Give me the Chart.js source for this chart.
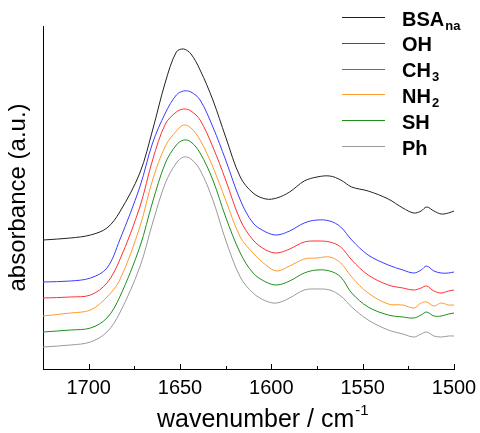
<!DOCTYPE html>
<html>
<head>
<meta charset="utf-8">
<script src="https://cdn.jsdelivr.net/npm/chart.js@4/dist/chart.umd.min.js"></script>
<style>
  body { margin: 0; background: #fff; }
  #wrap { width: 480px; height: 433px; }
</style>
</head>
<body>
<div id="wrap"><canvas id="c" width="480" height="433"></canvas></div>
<script>
// wavenumbers (cm-1) sampled along the spectra
const wavenumbers = [1725, 1710, 1699, 1690, 1683, 1672, 1665, 1658, 1652, 1648, 1644, 1639, 1632, 1625,
  1617, 1610, 1603, 1597, 1590, 1582, 1575, 1568, 1562, 1556, 1547, 1536, 1528, 1522, 1518, 1515,
  1511, 1507, 1503, 1500];

// offset absorbance, arbitrary units
const bsaNa = [122, 124, 127, 134, 150, 189, 232, 280, 310, 313, 308, 292, 262, 225, 185, 169, 163, 164,
  170, 181, 185, 186, 182, 175, 171, 163, 154, 149, 151, 155, 151, 148, 149, 151];
const ohVals = [80, 81, 84, 94, 122, 175, 219, 249, 267, 271, 270, 262, 235, 202, 162, 139, 130, 127,
  131, 139, 142, 141, 135, 122, 107, 97, 92, 89, 92, 96, 91, 89, 89, 90];
const ch3Vals = [64, 65, 67, 79, 102, 155, 202, 238, 250, 253, 251, 242, 215, 182, 142, 122, 112, 109,
  113, 120, 121, 120, 115, 102, 87, 77, 74, 72, 74, 76, 71, 69, 71, 72];
const nh2Vals = [46, 49, 52, 65, 82, 135, 182, 216, 231, 237, 234, 222, 195, 162, 125, 109, 97, 91,
  96, 103, 104, 105, 99, 85, 69, 58, 57, 54, 59, 60, 56, 59, 57, 57];
const shVals = [30, 32, 34, 44, 65, 115, 160, 199, 217, 222, 220, 209, 182, 145, 109, 89, 80, 77,
  81, 89, 92, 91, 85, 69, 55, 47, 45, 44, 47, 50, 46, 46, 48, 49];
const phVals = [15, 17, 20, 30, 49, 95, 139, 179, 199, 205, 203, 192, 162, 122, 85, 69, 61, 59,
  64, 72, 73, 72, 66, 55, 42, 32, 28, 25, 28, 30, 26, 25, 26, 26];

const seriesNames = ['BSA', 'OH', 'CH', 'NH', 'SH', 'Ph'];
const seriesSubs = ['na', '', '3', '2', '', ''];
const seriesColors = ['#222222', '#3b3bff', '#ff3030', '#ff9a2e', '#1e8f1e', '#9a9a9a'];
const xTicks = [1500, 1525, 1550, 1575, 1600, 1625, 1650, 1675, 1700, 1725];

const allSeries = [bsaNa, ohVals, ch3Vals, nh2Vals, shVals, phVals];
const FONT = '"Liberation Sans", Arial, sans-serif';

const datasets = allSeries.map((vals, i) => ({
  label: seriesNames[i] + seriesSubs[i],
  data: wavenumbers.map((w, j) => ({ x: w, y: vals[j] })),
  borderColor: seriesColors[i],
  borderWidth: 1,
  pointRadius: 0,
  fill: false,
  tension: 0.35
}));

const extras = {
  id: 'extras',
  afterDraw(chart) {
    const ctx = chart.ctx;
    const xs = chart.scales.x;
    const bottom = chart.chartArea.bottom;
    ctx.save();
    ctx.strokeStyle = '#000';
    ctx.lineWidth = 1;
    // inward tick marks
    xTicks.forEach(v => {
      const px = Math.round(xs.getPixelForValue(v)) + 0.5;
      const len = v % 50 === 0 ? 5 : 3;
      ctx.beginPath();
      ctx.moveTo(px, bottom);
      ctx.lineTo(px, bottom - len);
      ctx.stroke();
    });
    // x axis title with superscript
    ctx.fillStyle = '#000';
    ctx.textBaseline = 'alphabetic';
    ctx.font = '25px ' + FONT;
    const main = 'wavenumber / cm';
    ctx.fillText(main, 157, 427);
    const mw = ctx.measureText(main).width;
    ctx.font = '15px ' + FONT;
    ctx.fillText('-1', 157 + mw + 1, 415);
    // legend
    const lx0 = 342, lx1 = 385, tx = 402;
    seriesNames.forEach((name, i) => {
      const y = 17 + i * 25.8;
      ctx.strokeStyle = seriesColors[i];
      ctx.beginPath();
      ctx.moveTo(lx0, Math.round(y) + 0.5);
      ctx.lineTo(lx1, Math.round(y) + 0.5);
      ctx.stroke();
      ctx.fillStyle = '#000';
      ctx.textBaseline = 'middle';
      ctx.font = 'bold 20px ' + FONT;
      ctx.fillText(name, tx, y + 3);
      if (seriesSubs[i]) {
        const w = ctx.measureText(name).width;
        ctx.font = 'bold 13px ' + FONT;
        ctx.fillText(seriesSubs[i], tx + w + 1, y + 9);
      }
    });
    ctx.restore();
  }
};

new Chart(document.getElementById('c'), {
  type: 'line',
  data: { datasets },
  options: {
    responsive: false,
    animation: false,
    layout: { padding: { top: 26, right: 26, left: 0, bottom: 0 } },
    plugins: { legend: { display: false }, tooltip: { enabled: false } },
    scales: {
      x: {
        type: 'linear',
        reverse: true,
        min: 1500,
        max: 1725,
        afterFit(s) { s.height = 64; },
        afterBuildTicks(s) { s.ticks = xTicks.map(v => ({ value: v })); },
        ticks: {
          color: '#000',
          padding: 7,
          maxRotation: 0,
          font: { family: FONT, size: 20 },
          callback: v => (v % 50 === 0 && v < 1725) ? String(v) : ''
        },
        grid: { display: false, drawTicks: false },
        border: { display: true, color: '#000', width: 1 },
        title: { display: false }
      },
      y: {
        min: -7,
        max: 336,
        afterFit(s) { s.width = 43; },
        ticks: { display: false },
        grid: { display: false, drawTicks: false },
        border: { display: true, color: '#000', width: 1 },
        title: {
          display: true,
          text: 'absorbance (a.u.)',
          color: '#000',
          font: { family: FONT, size: 24 },
          padding: { top: 4, bottom: 0 }
        }
      }
    }
  },
  plugins: [extras]
});
</script>
</body>
</html>
